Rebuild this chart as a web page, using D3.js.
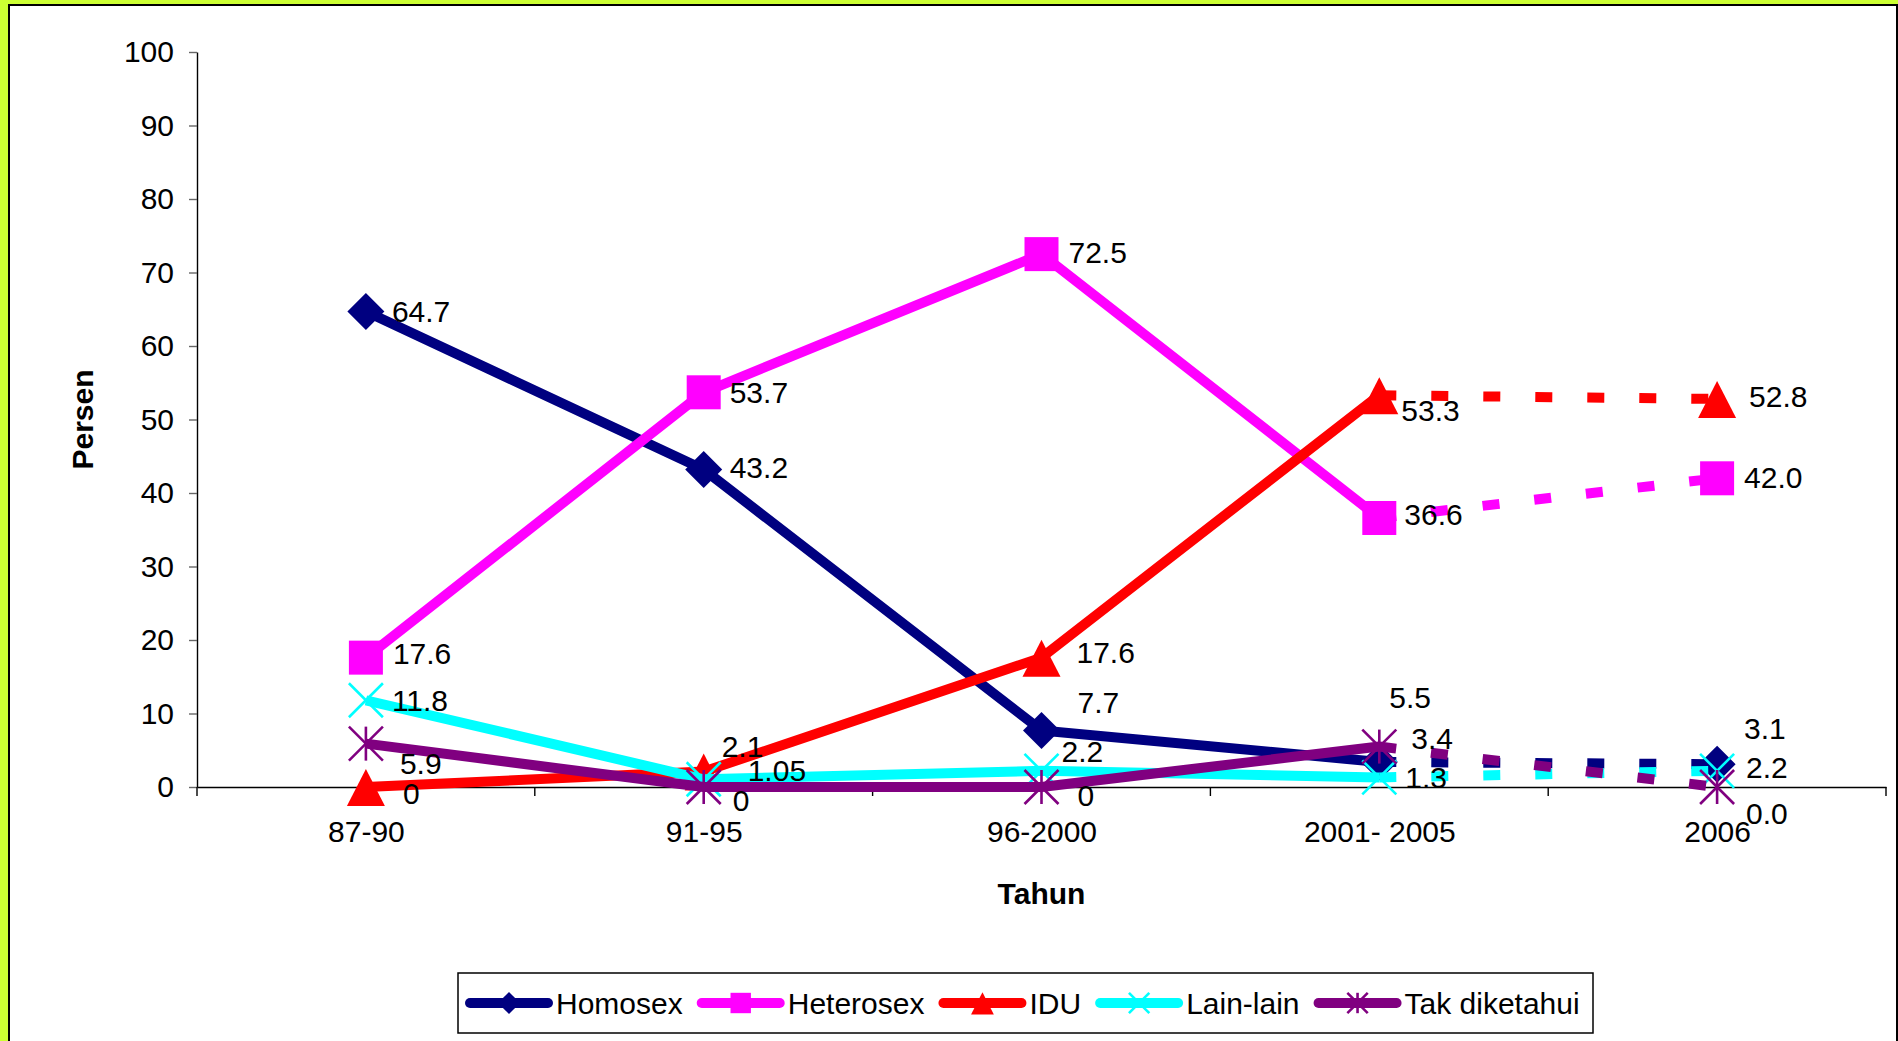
<!DOCTYPE html>
<html>
<head>
<meta charset="utf-8">
<script src="https://cdn.jsdelivr.net/npm/d3@7"></script>
<style>
  body { margin: 0; background: #ccff33; }
  svg { display: block; font-family: Arial, "Liberation Sans", sans-serif; }
</style>
</head>
<body>
<script>
// data
const categories = ['87-90', '91-95', '96-2000', '2001- 2005', '2006'];
const homosex = [64.7, 43.2, 7.7, 3.4, 3.1];
const heterosex = [17.6, 53.7, 72.5, 36.6, 42.0];
const idu = [0, 2.1, 17.6, 53.3, 52.8];
const lainLain = [11.8, 1.05, 2.2, 1.3, 2.2];
const takDiketahui = [5.9, 0, 0, 5.5, 0.0];
const yTicks = [0, 10, 20, 30, 40, 50, 60, 70, 80, 90, 100];

// label nudges (px) so the labels sit where they were dragged in the original
const homosexShift = [[0, 0], [0, -2], [10, -28], [6, -24], [1, -36]];
const heterosexShift = [[1, -4], [0, 0], [1, -2], [-1, -3], [1, -1]];
const iduShift = [[11, 6], [-8, -25], [9, -5], [-4, 15], [6, -2]];
const lainShift = [[0, 0], [18, -9], [-6, -19], [0, 0], [3, -3]];
const takShift = [[8, 20], [3, 13], [10, 8], [-16, -49], [3, 26]];

const series = [
  { name: 'Homosex', values: homosex, color: '#000080', marker: 'diamond', shift: homosexShift },
  { name: 'Heterosex', values: heterosex, color: '#ff00ff', marker: 'square', shift: heterosexShift },
  { name: 'IDU', values: idu, color: '#ff0000', marker: 'triangle', shift: iduShift },
  { name: 'Lain-lain', values: lainLain, color: '#00ffff', marker: 'x', shift: lainShift },
  { name: 'Tak diketahui', values: takDiketahui, color: '#800080', marker: 'star', shift: takShift }
];

const W = 1898, H = 1041;
const plotLeft = 197, plotRight = 1886, plotTop = 52, plotBottom = 787;
const lineW = 10;

const svg = d3.select('body').append('svg')
  .attr('width', W)
  .attr('height', H);

svg.append('rect')
  .attr('width', W).attr('height', H)
  .attr('fill', '#ccff33');

svg.append('rect')
  .attr('x', 9).attr('y', 5)
  .attr('width', 1888).attr('height', 1100)
  .attr('fill', '#fff')
  .attr('stroke', '#000')
  .attr('stroke-width', 2);

const x = d3.scalePoint().domain(categories).range([plotLeft, plotRight]).padding(0.5);
const band = d3.scaleBand().domain(categories).range([plotLeft, plotRight]);
const y = d3.scaleLinear().domain([0, 100]).range([plotBottom, plotTop]);

// y axis
const yAxis = svg.append('g')
  .attr('transform', `translate(${plotLeft},0)`)
  .call(d3.axisLeft(y).tickValues(yTicks).tickSize(8).tickSizeOuter(0).tickPadding(15));
yAxis.select('.domain').attr('stroke', '#000').attr('stroke-width', 1.4);
yAxis.selectAll('.tick line').attr('stroke', '#666').attr('stroke-width', 1.4);
yAxis.selectAll('.tick text').attr('font-size', 30).attr('fill', '#000');

// x axis, labels centred in each category, ticks on the boundaries
const xAxis = svg.append('g')
  .attr('transform', `translate(0,${plotBottom})`)
  .call(d3.axisBottom(x).tickSize(0).tickSizeOuter(0).tickPadding(34));
xAxis.select('.domain').attr('stroke', '#000').attr('stroke-width', 1.4);
xAxis.selectAll('.tick text').attr('font-size', 30).attr('fill', '#000');

const bounds = categories.map(c => band(c)).concat([plotRight]);
svg.append('g').selectAll('line')
  .data(bounds)
  .join('line')
  .attr('x1', d => d).attr('x2', d => d)
  .attr('y1', plotBottom).attr('y2', plotBottom + 9)
  .attr('stroke', '#000')
  .attr('stroke-width', 1.4);

svg.append('text')
  .attr('transform', `translate(82,${(plotTop + plotBottom) / 2}) rotate(-90)`)
  .attr('text-anchor', 'middle')
  .attr('dy', '0.35em')
  .attr('font-size', 30)
  .attr('font-weight', 'bold')
  .text('Persen');

svg.append('text')
  .attr('x', (plotLeft + plotRight) / 2)
  .attr('y', 893)
  .attr('text-anchor', 'middle')
  .attr('dy', '0.35em')
  .attr('font-size', 30)
  .attr('font-weight', 'bold')
  .text('Tahun');

function drawMarker(g, type, color, s) {
  if (type === 'diamond') {
    g.append('path').attr('d', `M0,${-18.5 * s}L${18.5 * s},0L0,${18.5 * s}L${-18.5 * s},0Z`).attr('fill', color);
  } else if (type === 'square') {
    g.append('rect').attr('x', -17 * s).attr('y', -17 * s).attr('width', 34 * s).attr('height', 34 * s).attr('fill', color);
  } else if (type === 'triangle') {
    g.append('path').attr('d', `M0,${-18 * s}L${19 * s},${19 * s}L${-19 * s},${19 * s}Z`).attr('fill', color);
  } else {
    const r = 17 * s;
    const segs = [[-r, -r, r, r], [-r, r, r, -r]];
    if (type === 'star') segs.push([0, -r, 0, r]);
    segs.forEach(p => {
      g.append('line')
        .attr('x1', p[0]).attr('y1', p[1]).attr('x2', p[2]).attr('y2', p[3])
        .attr('stroke', color).attr('stroke-width', 2.6);
    });
  }
}

const line = d3.line()
  .x(d => x(d.cat))
  .y(d => y(d.v));

const plot = svg.append('g');
series.forEach(s => {
  const pts = s.values.map((v, i) => ({ cat: categories[i], v: v }));
  const g = plot.append('g');
  g.append('path')
    .attr('d', line(pts.slice(0, 4)))
    .attr('fill', 'none')
    .attr('stroke', s.color)
    .attr('stroke-width', lineW)
    .attr('stroke-linejoin', 'round');
  g.append('path')
    .attr('d', line(pts.slice(3)))
    .attr('fill', 'none')
    .attr('stroke', s.color)
    .attr('stroke-width', lineW)
    .attr('stroke-dasharray', '17,35');
  pts.forEach(p => {
    const m = g.append('g').attr('transform', `translate(${x(p.cat)},${y(p.v)})`);
    drawMarker(m, s.marker, s.color, 1);
  });
});

// data labels on top
const labels = svg.append('g').attr('font-size', 30).attr('fill', '#000');
series.forEach(s => {
  s.values.forEach((v, i) => {
    labels.append('text')
      .attr('x', x(categories[i]) + 26 + s.shift[i][0])
      .attr('y', y(v) + s.shift[i][1])
      .attr('dy', '0.35em')
      .text(i === 4 ? v.toFixed(1) : String(v));
  });
});

// legend
const legend = svg.append('g');
legend.append('rect')
  .attr('x', 458).attr('y', 973)
  .attr('width', 1135).attr('height', 60)
  .attr('fill', '#fff')
  .attr('stroke', '#000')
  .attr('stroke-width', 1.5);

let lx = 466;
const ly = 1003;
series.forEach(s => {
  const item = legend.append('g');
  item.append('line')
    .attr('x1', lx + 4).attr('x2', lx + 82)
    .attr('y1', ly).attr('y2', ly)
    .attr('stroke', s.color)
    .attr('stroke-width', lineW)
    .attr('stroke-linecap', 'round');
  const m = item.append('g').attr('transform', `translate(${lx + 43},${ly})`);
  drawMarker(m, s.marker, s.color, 0.6);
  const t = item.append('text')
    .attr('x', lx + 90)
    .attr('y', ly)
    .attr('dy', '0.35em')
    .attr('font-size', 30)
    .text(s.name);
  lx += 90 + t.node().getComputedTextLength() + 15;
});
</script>
</body>
</html>
